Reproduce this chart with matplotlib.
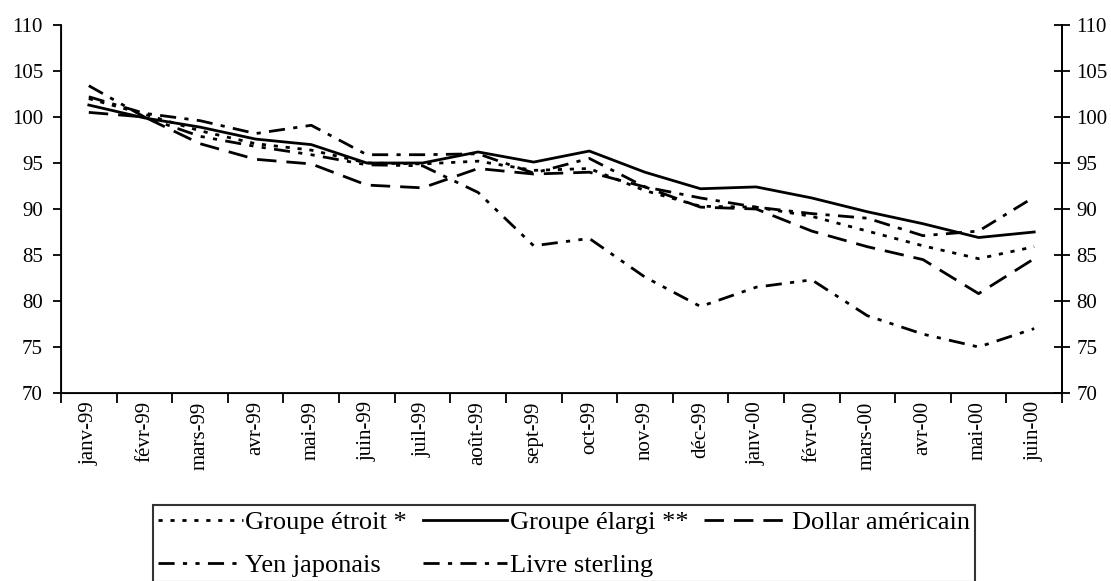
import numpy as np
import matplotlib
matplotlib.use("Agg")
import matplotlib.pyplot as plt

plt.rcParams["font.family"] = ["Liberation Serif", "DejaVu Serif"]

months = ["janv-99", "févr-99", "mars-99", "avr-99", "mai-99", "juin-99",
          "juil-99", "août-99", "sept-99", "oct-99", "nov-99", "déc-99",
          "janv-00", "févr-00", "mars-00", "avr-00", "mai-00", "juin-00"]

groupe_etroit = [102.0, 100.3, 98.5, 97.1, 96.4, 95.0, 94.9, 95.2, 94.2, 94.4,
                 92.0, 90.3, 90.2, 89.2, 87.6, 86.0, 84.6, 85.9]
groupe_elargi = [101.3, 99.9, 98.9, 97.6, 97.0, 95.0, 95.0, 96.2, 95.1, 96.3,
                 94.0, 92.2, 92.4, 91.2, 89.7, 88.4, 86.9, 87.5]
dollar = [100.5, 100.0, 97.1, 95.4, 94.9, 92.6, 92.3, 94.4, 93.8, 94.0,
          92.4, 90.2, 90.0, 87.6, 85.9, 84.5, 80.8, 84.6]
yen = [103.4, 100.0, 97.9, 96.8, 95.9, 94.8, 94.7, 91.8, 86.0, 86.8,
       82.6, 79.4, 81.5, 82.3, 78.4, 76.4, 75.0, 77.0]
livre = [102.2, 100.4, 99.6, 98.2, 99.1, 95.9, 95.9, 96.0, 93.9, 95.5,
         92.4, 91.2, 90.2, 89.5, 89.0, 87.1, 87.6, 91.3]

yticks = [70, 75, 80, 85, 90, 95, 100, 105, 110]

W, H = 1111, 581
fig = plt.figure(figsize=(W / 100, H / 100), dpi=100)
ax = fig.add_axes([61 / W, 1 - 393 / H, (1062 - 61) / W, (393 - 25) / H])

x = np.arange(len(months))
lw = 2.0
l_etroit, = ax.plot(x, groupe_etroit, color="black", lw=lw, dashes=(1.5, 2.8))
l_elargi, = ax.plot(x, groupe_elargi, color="black", lw=lw)
l_dollar, = ax.plot(x, dollar, color="black", lw=lw, dashes=(7, 3.6))
l_yen, = ax.plot(x, yen, color="black", lw=lw, dashes=(5.8, 3, 1.5, 3, 1.5, 3))
l_livre, = ax.plot(x, livre, color="black", lw=lw, dashes=(5.8, 3, 1.5, 3))

ax.set_xlim(-0.5, len(months) - 0.5)
ax.set_ylim(70, 110)
ax.set_yticks(yticks)
ax.tick_params(axis="y", direction="out", length=6, width=1.3, labelsize=15, pad=7)

# category ticks between months, labels centred on months
ax.set_xticks(np.arange(len(months) + 1) - 0.5)
ax.set_xticklabels([])
ax.set_xticks(x, minor=True)
ax.set_xticklabels(months, minor=True, rotation=90)
ax.tick_params(axis="x", which="major", direction="out", length=7, width=1.3)
ax.tick_params(axis="x", which="minor", length=0, labelsize=15, pad=6)

ax.spines["top"].set_visible(False)
for s in ["left", "bottom", "right"]:
    ax.spines[s].set_linewidth(1.3)

ax2 = ax.twinx()
ax2.set_ylim(70, 110)
ax2.set_yticks(yticks)
ax2.tick_params(axis="y", direction="inout", length=12, width=1.3, labelsize=15, pad=4.5)
ax2.spines["top"].set_visible(False)
ax2.spines["right"].set_linewidth(1.3)

handles = [l_etroit, l_yen, l_elargi, l_livre, l_dollar]
labels = ["Groupe étroit *", "Yen japonais", "Groupe élargi **",
          "Livre sterling", "Dollar américain"]
leg = fig.legend(handles, labels, ncol=3, loc="upper left",
                 bbox_to_anchor=(153 / W, 1 - 505 / H), borderaxespad=0,
                 fontsize=19, handlelength=3.2, handletextpad=0.1,
                 columnspacing=0.6, labelspacing=0.75, borderpad=0.2,
                 frameon=True, fancybox=False, edgecolor="black")
leg.get_frame().set_linewidth(1.5)

fig.savefig("out.png", dpi=100)
